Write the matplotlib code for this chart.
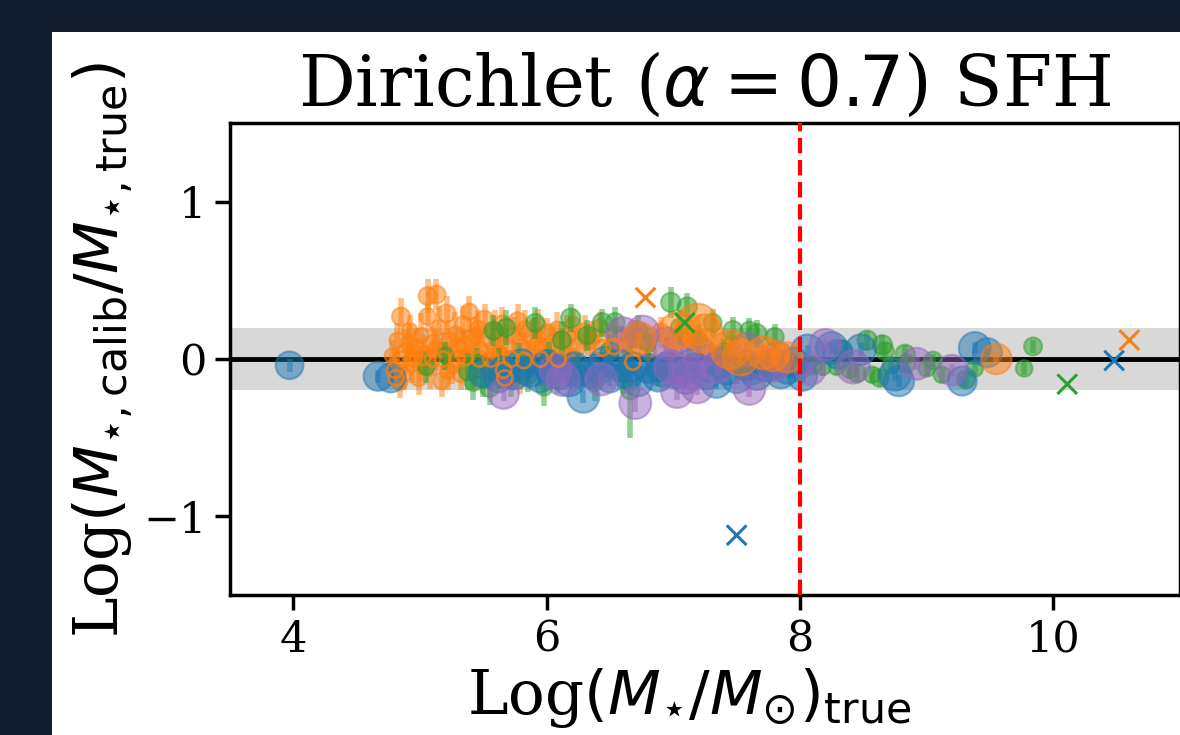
import matplotlib
matplotlib.use('Agg')
import matplotlib.pyplot as plt
from matplotlib.patches import Rectangle

plt.rcParams['font.family'] = 'DejaVu Serif'
plt.rcParams['mathtext.fontset'] = 'dejavusans'

# ---- data ----
# orange: small filled points with error bars
orange_x = [4.78, 4.80, 4.82, 4.85, 4.87, 4.89, 4.92, 4.94, 4.97, 4.99, 5.01, 5.03, 5.06, 5.06,
            5.08, 5.10, 5.13, 5.15, 5.17, 5.19, 5.21, 5.23, 5.25, 5.28, 5.30, 5.32, 5.34, 5.37,
            5.39, 5.41, 5.43, 5.46, 5.48, 5.51, 5.53, 5.56, 5.59, 5.62, 5.65, 5.68, 5.71, 5.74,
            5.77, 5.80, 5.83, 5.86, 5.89, 5.93, 5.96, 6.00, 6.04, 6.08, 6.12, 6.16, 6.21, 6.25,
            6.30, 6.36, 6.42, 6.48, 6.55, 6.62, 6.70, 6.80, 6.90, 7.00, 7.12, 7.30, 7.45,
            4.84, 4.91, 5.00, 5.12, 5.22, 5.35, 5.44, 5.57, 5.64, 5.79, 5.92, 6.05, 6.19, 6.33]
orange_y = [0.02, -0.05, 0.12, 0.27, -0.10, 0.05, 0.18, -0.02, 0.08, -0.12, 0.15, 0.03, 0.40, 0.27,
            -0.06, 0.10, 0.41, 0.20, -0.14, 0.05, 0.29, 0.12, -0.04, 0.16, 0.07, -0.10, 0.22, 0.02,
            0.30, 0.13, -0.08, 0.19, 0.06, 0.25, -0.02, 0.11, 0.17, 0.04, 0.22, 0.09, -0.05, 0.15,
            0.24, 0.08, 0.19, 0.02, 0.13, 0.21, 0.06, 0.16, 0.10, 0.19, 0.04, 0.14, 0.22, 0.08,
            0.17, 0.11, 0.20, 0.06, 0.15, 0.09, 0.13, 0.05, 0.17, 0.08, 0.12, 0.03, 0.09,
            -0.15, 0.10, -0.03, 0.06, -0.08, 0.09, 0.15, -0.06, 0.03, -0.10, 0.10, -0.04, 0.02, 0.12]
orange_e = [0.10, 0.12, 0.11, 0.12, 0.10, 0.14, 0.10, 0.13, 0.12, 0.11, 0.14, 0.12, 0.11, 0.10,
            0.13, 0.11, 0.10, 0.14, 0.10, 0.12, 0.11, 0.13, 0.12, 0.14, 0.11, 0.10, 0.12, 0.13,
            0.10, 0.14, 0.11, 0.12, 0.13, 0.10, 0.12, 0.11, 0.14, 0.12, 0.11, 0.13, 0.10, 0.12,
            0.11, 0.14, 0.12, 0.10, 0.13, 0.11, 0.12, 0.10, 0.13, 0.11, 0.12, 0.14, 0.10, 0.12,
            0.11, 0.13, 0.10, 0.12, 0.11, 0.10, 0.12, 0.11, 0.10, 0.09, 0.10, 0.08, 0.09,
            0.10, 0.12, 0.11, 0.13, 0.12, 0.10, 0.12, 0.11, 0.13, 0.12, 0.10, 0.12, 0.11, 0.10]
orange_s = [11, 12, 11, 13, 11, 12, 11, 13, 11, 12, 11, 12, 13, 12,
            11, 12, 13, 11, 12, 11, 13, 11, 12, 11, 13, 11, 12, 11,
            12, 13, 11, 12, 11, 13, 12, 11, 12, 11, 13, 12, 11, 12,
            13, 11, 12, 11, 13, 12, 11, 13, 12, 11, 12, 13, 11, 12,
            13, 11, 12, 11, 13, 12, 13, 12, 13, 14, 13, 14, 13,
            11, 12, 11, 12, 11, 12, 11, 12, 11, 12, 11, 12, 11, 12]

# orange: hollow markers
orange_open_x = [4.80, 4.81, 4.86, 4.95, 5.02, 5.10, 5.18, 5.29, 5.36, 5.47, 5.56, 5.66, 5.67,
                 5.72, 5.82, 5.95, 6.09, 6.44, 6.53, 6.68]
orange_open_y = [-0.07, -0.12, 0.00, 0.00, 0.01, 0.00, 0.00, 0.00, 0.01, 0.00, 0.00, -0.07, -0.12,
                 0.00, -0.01, 0.00, 0.00, 0.07, 0.08, -0.02]

# orange: large points
orange_big_x = [6.73, 7.03, 7.19, 7.24, 7.45, 7.53, 7.71, 7.79, 7.90, 9.55]
orange_big_y = [0.13, 0.18, 0.22, 0.16, 0.06, 0.01, 0.04, 0.02, 0.01, 0.00]
orange_big_e = [0.04, 0.05, 0.05, 0.04, 0.04, 0.03, 0.04, 0.03, 0.03, 0.03]
orange_big_s = [24, 26, 30, 28, 28, 26, 24, 22, 22, 22]

# green
green_x = [5.05, 5.20, 5.38, 5.42, 5.45, 5.50, 5.55, 5.58, 5.62, 5.68, 5.72, 5.78, 5.85, 5.91,
           5.98, 6.02, 6.08, 6.12, 6.19, 6.25, 6.32, 6.38, 6.44, 6.50, 6.54, 6.60, 6.66, 6.72,
           6.80, 6.88, 6.98, 7.05, 7.11, 7.20, 7.31, 7.40, 7.47, 7.60, 7.66, 7.72, 7.80, 7.92,
           8.00, 8.10, 8.18, 8.29, 8.34, 8.39, 8.45, 8.53, 8.57, 8.63, 8.65, 8.67, 8.72, 8.83,
           8.84, 9.00, 9.05, 9.12, 9.31, 9.38, 9.77, 9.84]
green_y = [-0.05, 0.02, -0.08, -0.15, -0.03, -0.12, -0.18, 0.18, -0.06, 0.20, -0.14, -0.02, -0.10, 0.23,
           -0.18, 0.00, -0.12, 0.12, 0.26, -0.08, 0.15, -0.15, 0.23, 0.05, 0.23, -0.10, -0.20, 0.18,
           0.10, -0.08, 0.36, 0.20, 0.33, 0.12, 0.23, 0.05, 0.18, 0.18, 0.16, -0.05, 0.14, -0.06,
           -0.08, -0.04, -0.05, -0.05, 0.06, -0.07, -0.09, 0.12, -0.10, -0.12, 0.09, 0.05, -0.04, 0.03,
           -0.03, -0.06, -0.01, -0.10, -0.13, -0.06, -0.06, 0.08]
green_e = [0.10, 0.09, 0.12, 0.11, 0.10, 0.12, 0.11, 0.10, 0.13, 0.11, 0.10, 0.12, 0.11, 0.10,
           0.12, 0.11, 0.10, 0.12, 0.09, 0.11, 0.10, 0.12, 0.09, 0.11, 0.10, 0.12, 0.30, 0.10,
           0.11, 0.09, 0.10, 0.11, 0.09, 0.10, 0.09, 0.08, 0.09, 0.08, 0.09, 0.07, 0.08, 0.07,
           0.06, 0.05, 0.06, 0.05, 0.06, 0.05, 0.05, 0.06, 0.05, 0.05, 0.06, 0.05, 0.05, 0.06,
           0.05, 0.05, 0.04, 0.05, 0.05, 0.04, 0.04, 0.04]
green_s = [12, 12, 13, 12, 13, 12, 14, 13, 12, 13, 12, 13, 14, 13,
           12, 13, 12, 13, 14, 12, 13, 12, 14, 13, 14, 12, 13, 13,
           12, 13, 14, 13, 14, 12, 13, 12, 14, 13, 14, 12, 13, 12,
           12, 13, 12, 12, 13, 12, 13, 14, 12, 13, 14, 13, 12, 14,
           13, 12, 13, 12, 13, 12, 12, 13]

# blue
blue_x = [3.97, 4.67, 4.77, 5.50, 5.62, 5.66, 5.75, 5.87, 5.95, 6.03, 6.10, 6.18, 6.22, 6.29,
          6.35, 6.42, 6.50, 6.58, 6.64, 6.72, 6.80, 6.88, 6.95, 7.02, 7.10, 7.18, 7.26, 7.34,
          7.42, 7.50, 7.58, 7.66, 7.74, 7.85, 7.95, 8.06, 8.02, 8.25, 8.30, 8.48, 8.75, 8.78,
          9.28, 9.38, 9.48, 5.80, 6.00, 6.26, 6.46, 6.68, 6.92, 7.14, 7.38, 7.62, 7.90]
blue_y = [-0.04, -0.11, -0.12, -0.09, -0.12, -0.08, -0.10, -0.08, -0.12, -0.06, -0.10, -0.14, -0.05, -0.24,
          -0.09, -0.06, -0.12, -0.04, -0.10, -0.14, -0.06, -0.11, -0.05, -0.09, -0.13, -0.06, -0.10, -0.15,
          -0.07, -0.12, -0.04, -0.10, -0.05, -0.09, -0.02, 0.05, -0.11, 0.07, 0.03, 0.06, -0.10, -0.14,
          -0.14, 0.07, 0.04, -0.03, -0.04, -0.08, -0.02, -0.05, -0.08, -0.03, -0.02, -0.07, -0.06]
blue_e = [0.04, 0.04, 0.05, 0.04, 0.05, 0.04, 0.05, 0.04, 0.05, 0.04, 0.05, 0.04, 0.05, 0.04,
          0.05, 0.04, 0.05, 0.04, 0.05, 0.04, 0.05, 0.04, 0.05, 0.04, 0.05, 0.04, 0.05, 0.04,
          0.05, 0.04, 0.05, 0.04, 0.05, 0.04, 0.04, 0.04, 0.04, 0.04, 0.03, 0.04, 0.04, 0.04,
          0.03, 0.04, 0.03, 0.04, 0.05, 0.04, 0.05, 0.04, 0.05, 0.04, 0.05, 0.04, 0.04]
blue_s = [20, 21, 21, 21, 21, 22, 21, 22, 21, 22, 21, 22, 21, 23,
          21, 22, 21, 22, 21, 22, 21, 22, 21, 22, 21, 22, 21, 22,
          21, 22, 21, 22, 21, 22, 21, 24, 21, 23, 21, 22, 23, 22,
          21, 23, 21, 21, 22, 21, 22, 21, 22, 21, 22, 21, 22]

# purple
purple_x = [5.66, 6.07, 6.13, 6.43, 6.60, 6.70, 6.76, 6.95, 6.98, 7.03, 7.13, 7.19, 7.20, 7.35,
            7.58, 7.60, 7.79, 7.82, 8.08, 8.20, 8.42, 8.92, 9.20]
purple_y = [-0.22, -0.07, -0.13, -0.13, 0.16, -0.28, 0.17, 0.10, -0.05, -0.21, -0.09, -0.18, 0.04, -0.05,
            0.06, -0.19, -0.04, 0.01, -0.07, 0.09, -0.05, -0.03, -0.07]
purple_e = [0.05, 0.04, 0.05, 0.04, 0.05, 0.06, 0.05, 0.04, 0.05, 0.05, 0.04, 0.05, 0.04, 0.05,
            0.04, 0.05, 0.04, 0.04, 0.04, 0.04, 0.04, 0.04, 0.04]
purple_s = [22, 23, 24, 23, 24, 23, 24, 23, 24, 23, 24, 23, 24, 23,
            24, 23, 24, 23, 22, 23, 24, 23, 22]

# outliers (x markers)
cross_x = [6.78, 7.09, 7.50, 10.48, 10.60, 10.11]
cross_y = [0.39, 0.23, -1.12, -0.01, 0.12, -0.16]
cross_c = ['tab:orange', 'tab:green', 'tab:blue', 'tab:blue', 'tab:orange', 'tab:green']

band = 0.2
mass_limit = 8

# ---- figure ----
fig = plt.figure(figsize=(11.8, 7.35), dpi=100)
fig.patch.set_facecolor('#121e2f')
fig.patches.append(Rectangle((52 / 1180, 0), 1, (735 - 32) / 735, transform=fig.transFigure,
                             facecolor='white', edgecolor='none', zorder=-10))

ax = fig.add_axes([230 / 1180, 140 / 735, 950 / 1180, 472 / 735])

ax.axhspan(-band, band, color='grey', alpha=0.3, lw=0, zorder=0)
ax.axhline(0, color='black', lw=3.5, zorder=1)


def draw(x, y, e, s, color):
    ax.errorbar(x, y, yerr=e, fmt='none', ecolor=color, elinewidth=4, alpha=0.5, zorder=2)
    ax.scatter(x, y, s=[v ** 2 for v in s], color=color, alpha=0.5, linewidths=1.5, zorder=2)


draw(orange_x, orange_y, orange_e, orange_s, 'tab:orange')
draw(green_x, green_y, green_e, green_s, 'tab:green')
draw(blue_x, blue_y, blue_e, blue_s, 'tab:blue')
draw(purple_x, purple_y, purple_e, purple_s, 'tab:purple')
draw(orange_big_x, orange_big_y, orange_big_e, orange_big_s, 'tab:orange')

ax.scatter(orange_open_x, orange_open_y, s=120, facecolors='none', edgecolors='tab:orange',
           linewidths=2, alpha=0.7, zorder=3)
ax.scatter(cross_x, cross_y, marker='x', s=200, c=cross_c, linewidths=2.2, zorder=4)

ax.axvline(mass_limit, color='red', ls='--', lw=3, zorder=5)

ax.set_xlim(3.5, 11)
ax.set_ylim(-1.5, 1.5)
ax.set_xticks([4, 6, 8, 10])
ax.set_yticks([-1, 0, 1])
ax.tick_params(labelsize=31, length=11, width=2.5, pad=6)
for sp in ax.spines.values():
    sp.set_linewidth(2.5)

ax.set_title(r'Dirichlet ($\alpha=0.7$) SFH', fontsize=51, pad=12)
ax.set_xlabel(r'Log$(M_{\star}/M_{\odot})_{\rm true}$', fontsize=44, labelpad=4, x=0.483)
ax.set_ylabel(r'Log$(M_{\star,\rm calib}/M_{\star,\rm true})$', fontsize=44, labelpad=6, y=0.52)

fig.savefig('out.png', dpi=100, facecolor=fig.get_facecolor())
